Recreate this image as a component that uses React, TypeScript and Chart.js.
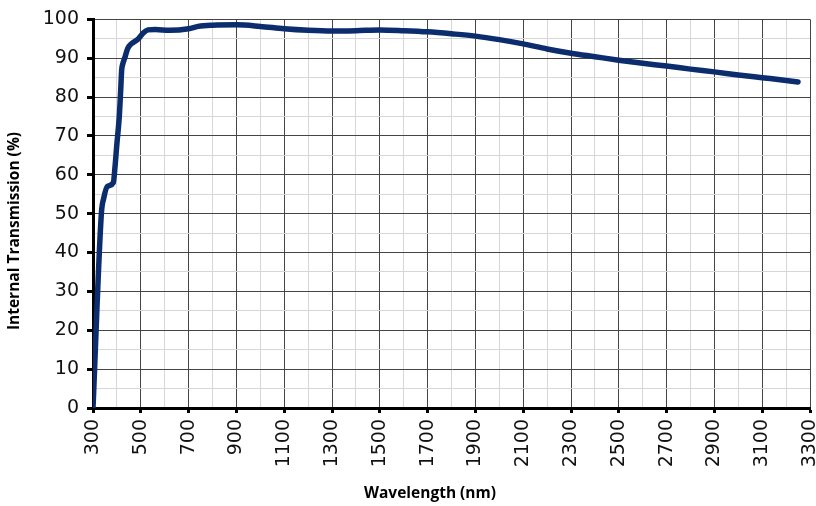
import React, { useEffect, useRef } from "react";
import { Chart, registerables } from "chart.js";

Chart.register(...registerables);

const wavelengths = [300, 335, 345, 360, 385, 392, 400, 410, 416, 420, 425, 435, 445, 460, 490, 510, 530, 560, 620, 700, 740, 800, 900, 1000, 1100, 1200, 1300, 1400, 1500, 1600, 1700, 1800, 1900, 2000, 2100, 2200, 2300, 2400, 2500, 2600, 2700, 2800, 2900, 3000, 3100, 3200, 3250];
const transmission = [0, 50, 54, 57, 58, 62, 68, 75, 82, 87, 88.6, 90.5, 92.5, 93.7, 95, 96.5, 97.3, 97.4, 97.2, 97.6, 98.2, 98.5, 98.6, 98.2, 97.6, 97.2, 97.0, 97.1, 97.3, 97.1, 96.8, 96.3, 95.7, 94.8, 93.7, 92.4, 91.3, 90.4, 89.5, 88.7, 88.0, 87.2, 86.5, 85.7, 85.0, 84.3, 83.9];
const xTitle = "Wavelength (nm)";
const yTitle = "Internal Transmission (%)";

const isMajorX = (v: number) => (v - 300) % 200 === 0;
const isMajorY = (v: number) => v % 10 === 0;

const titlePlugin = {
  id: "customTitles",
  afterDraw(chart: any) {
    const ctx = chart.ctx;
    ctx.save();
    ctx.fillStyle = "#000";
    ctx.font = "bold 15.5px 'Open Sans'";
    ctx.textAlign = "center";
    ctx.textBaseline = "middle";
    ctx.fillText(xTitle, 430, 494);
    ctx.translate(15, 231);
    ctx.rotate(-Math.PI / 2);
    ctx.fillText(yTitle, 0, 0);
    ctx.restore();
  },
};

export default function App() {
  const ref = useRef<HTMLCanvasElement>(null);
  useEffect(() => {
    document.body.style.margin = "0";
    const data = wavelengths.map((x, i) => ({ x, y: transmission[i] }));
    const chart = new Chart(ref.current as HTMLCanvasElement, {
      type: "line",
      data: {
        datasets: [
          {
            data,
            borderColor: "#0b2d6e",
            borderWidth: 5.5,
            pointRadius: 0,
            cubicInterpolationMode: "monotone",
            borderCapStyle: "round",
            borderJoinStyle: "round",
          },
        ],
      },
      options: {
        animation: false,
        responsive: false,
        layout: { padding: { top: 13, right: 6, left: 0, bottom: 0 } },
        plugins: { legend: { display: false }, tooltip: { enabled: false } },
        scales: {
          x: {
            type: "linear",
            min: 300,
            max: 3300,
            afterFit: (s: any) => {
              s.height = 98;
              s.paddingRight = 0;
              s.paddingLeft = 0;
            },
            border: { color: "#000", width: 3 },
            grid: {
              color: (c: any) => (c.tick && isMajorX(c.tick.value) ? "#444" : "#d6d6d6"),
              tickColor: (c: any) => (c.tick && isMajorX(c.tick.value) ? "#000" : "rgba(0,0,0,0)"),
              tickWidth: 3,
              tickLength: 5,
              lineWidth: 1,
            },
            ticks: {
              stepSize: 100,
              autoSkip: false,
              minRotation: 90,
              maxRotation: 90,
              padding: 6,
              color: "#111",
              font: { family: "'DejaVu Sans'", size: 19 },
              callback: (v: any) => (isMajorX(Number(v)) ? String(v) : ""),
            },
          },
          y: {
            min: 0,
            max: 100,
            afterFit: (s: any) => {
              s.width = 93;
            },
            border: { color: "#000", width: 3 },
            grid: {
              color: (c: any) => (c.tick && isMajorY(c.tick.value) ? "#444" : "#d6d6d6"),
              tickColor: (c: any) => (c.tick && isMajorY(c.tick.value) ? "#000" : "rgba(0,0,0,0)"),
              tickWidth: 3,
              tickLength: 6,
              lineWidth: 1,
            },
            ticks: {
              stepSize: 5,
              autoSkip: false,
              padding: 8,
              color: "#111",
              font: { family: "'DejaVu Sans'", size: 19 },
              callback: (v: any) => (isMajorY(Number(v)) ? String(v) : ""),
            },
          },
        },
      },
      plugins: [titlePlugin],
    } as any);
    return () => chart.destroy();
  }, []);
  return (
    <div style={{ width: 816, height: 506 }}>
      <canvas ref={ref} width={816} height={506} style={{ display: "block" }} />
    </div>
  );
}
